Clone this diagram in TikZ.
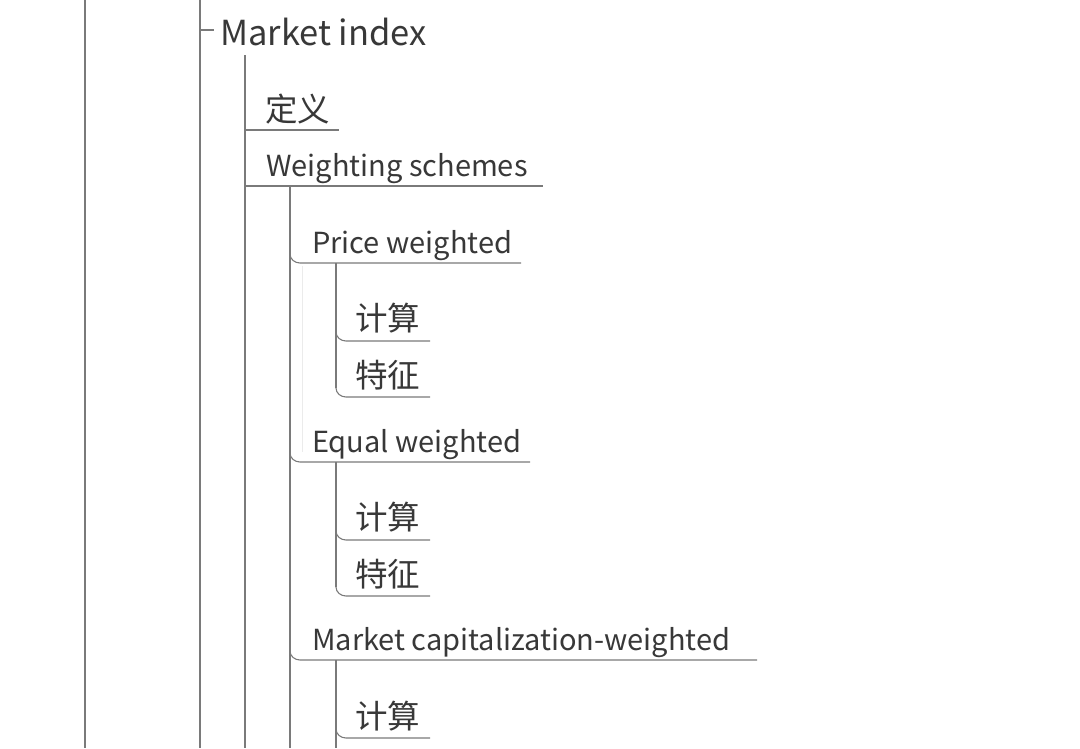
\documentclass[tikz,border=0pt]{standalone}
\usepackage{fontspec}
\setmainfont{Noto Sans CJK SC}
\begin{document}
\begin{tikzpicture}[x=1pt,y=-1pt,
  ln/.style={draw=black!52, line width=1.1pt},
  faint/.style={draw=black!8, line width=1pt},
  lbl/.style={anchor=base west, inner sep=0pt, text=black!78},
  big/.style={lbl, font=\fontsize{34.5}{40}\selectfont},
  mid/.style={lbl, font=\fontsize{29}{34}\selectfont},
  cjk/.style={lbl, font=\fontsize{32.5}{38}\selectfont}]
\fill[white] (0,0) rectangle (1080,748);
\useasboundingbox (0,0) rectangle (1080,748);
% text nodes
\node[big] (mi) at (220,45) {Market index};
\node[cjk] (dy) at (265,121) {定义};
\node[mid] (ws) at (266,176) {Weighting schemes};
\node[mid] (pw) at (312,253) {Price weighted};
\node[cjk] (pw1) at (355,330) {计算};
\node[cjk] (pw2) at (355,387) {特征};
\node[mid] (ew) at (312,452) {Equal weighted};
\node[cjk] (ew1) at (355,529) {计算};
\node[cjk] (ew2) at (355,586) {特征};
\node[mid] (mc) at (312,650) {Market capitalization-weighted};
\node[cjk] (mc1) at (355,728) {计算};
% trunk coordinates
\coordinate (t0a) at (85,0);   \coordinate (t0b) at (85,748);
\coordinate (t1a) at (200,0);  \coordinate (t1b) at (200,748);
\coordinate (t2a) at (245,55); \coordinate (t2b) at (245,748);
\coordinate (t3a) at (290,187);\coordinate (t3b) at (290,748);
% underline ends
\coordinate (miT) at (214,30);
\coordinate (dyE) at (339,130);
\coordinate (wsE) at (543,186);
\coordinate (pwE) at (521,263);
\coordinate (pw1E) at (430,341);
\coordinate (pw2E) at (430,397);
\coordinate (ewE) at (530,462);
\coordinate (ew1E) at (430,540);
\coordinate (ew2E) at (430,596);
\coordinate (mcE) at (757,660);
\coordinate (mc1E) at (430,738);
% trunks
\draw[ln] (t0a) -- (t0b);
\draw[ln] (t1a) -- (t1b);
\draw[ln] (t2a) -- (t2b);
\draw[ln] (t3a) -- (t3b);
\draw[faint] (302,266) -- (302,452);
% level 1 tick
\draw[ln] (t1a |- miT) -- (miT);
% level 2 (square corners)
\draw[ln] (t2a |- dyE) -- (dyE);
\draw[ln] (t2a |- wsE) -- (wsE);
% level 3 (rounded corners)
\foreach \e in {pwE,ewE,mcE}{
  \draw[ln] ([yshift=9pt]t3a |- \e) to[out=-90,in=180] ([xshift=10pt]t3a |- \e) -- (\e);
}
% level 4 trunks
\draw[ln] (336,263) -- (336,388);
\draw[ln] (336,462) -- (336,587);
\draw[ln] (336,660) -- (336,748);
\foreach \e in {pw1E,pw2E,ew1E,ew2E,mc1E}{
  \draw[ln] (336,0 |- \e) ++(0,-9) to[out=-90,in=180] ++(10,9) -- (\e);
}
\end{tikzpicture}
\end{document}
